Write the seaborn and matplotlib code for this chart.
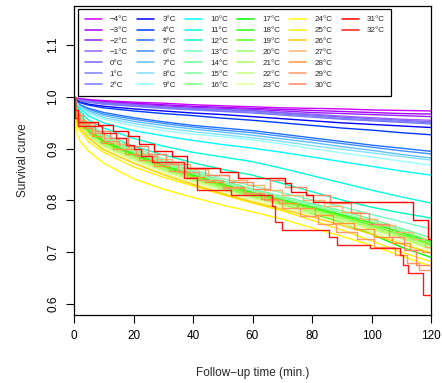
import numpy as np
import pandas as pd
import matplotlib
matplotlib.use("Agg")
import matplotlib.pyplot as plt
from matplotlib.lines import Line2D
import seaborn as sns

# ---------------- data ----------------
temps = list(range(-4, 33))
temp_labels = [("\u2212%d\u00b0C" % -t) if t < 0 else ("%d\u00b0C" % t) for t in temps]

colors = ["#CC00FF", "#A600FF", "#9A1EFF", "#9966FF", "#8060FF", "#8080FF", "#7878FF",
          "#0000FF", "#0038FF", "#2070FF", "#4090FF", "#60C0FF", "#80E0FF", "#99FFFF",
          "#00FFFF", "#00FFDD", "#00FFC0", "#70FFC0", "#66FF99", "#80FF99", "#80FF80",
          "#00FF00", "#22FF00", "#55FF00", "#99FF66", "#AAFF55", "#CCFF80", "#E6FF99",
          "#FFFF00", "#FFEE00", "#FFCC00", "#FFB366", "#FF9933", "#FF9966", "#FF8866",
          "#FF0000", "#FF1A1A"]

# time grid for the smooth (many-event) curves
t_grid = [0, 1, 2, 5, 10, 20, 30, 40, 50, 60, 70, 80, 90, 100, 110, 120]

# -4..4 degC
surv_cold = [
    [1, .998, .997, .995, .993, .990, .988, .985, .983, .981, .979, .978, .977, .975, .974, .973],
    [1, .997, .996, .994, .991, .988, .985, .982, .980, .978, .976, .974, .972, .970, .968, .967],
    [1, .997, .995, .993, .990, .986, .983, .980, .978, .976, .973, .970, .968, .966, .964, .962],
    [1, .996, .995, .992, .989, .985, .981, .978, .976, .974, .970, .967, .963, .960, .957, .955],
    [1, .996, .994, .991, .988, .984, .980, .977, .975, .973, .969, .965, .961, .958, .955, .952],
    [1, .995, .993, .990, .987, .983, .979, .976, .973, .971, .967, .963, .959, .956, .953, .950],
    [1, .995, .993, .990, .986, .982, .978, .975, .972, .969, .965, .961, .957, .954, .951, .948],
    [1, .993, .990, .986, .982, .977, .973, .969, .966, .962, .958, .954, .950, .947, .944, .941],
    [1, .992, .989, .984, .979, .973, .968, .964, .959, .955, .950, .945, .940, .936, .931, .927],
]
# 5..12 degC
surv_mid = [
    [1, .990, .985, .978, .970, .960, .952, .945, .940, .935, .928, .921, .914, .907, .901, .895],
    [1, .989, .984, .976, .967, .957, .949, .942, .936, .931, .924, .917, .910, .903, .896, .890],
    [1, .988, .982, .973, .964, .953, .945, .938, .932, .926, .919, .912, .904, .897, .889, .882],
    [1, .987, .980, .970, .960, .949, .940, .933, .927, .921, .914, .906, .899, .892, .885, .878],
    [1, .986, .979, .968, .957, .944, .935, .928, .923, .917, .909, .900, .892, .884, .876, .868],
    [1, .985, .977, .963, .950, .935, .925, .916, .908, .901, .893, .884, .875, .866, .857, .849],
    [1, .982, .972, .955, .940, .920, .905, .893, .884, .875, .862, .848, .834, .820, .807, .795],
    [1, .978, .966, .947, .928, .905, .888, .873, .860, .849, .833, .817, .801, .787, .776, .766],
]
# 13..26 degC
surv_warm = [
    [1, .974, .963, .948, .928, .903, .880, .860, .842, .828, .815, .801, .788, .773, .759, .745],
    [1, .972, .960, .944, .924, .899, .876, .856, .838, .822, .808, .794, .780, .764, .746, .728],
    [1, .970, .958, .941, .921, .896, .873, .853, .835, .819, .805, .791, .776, .760, .742, .722],
    [1, .968, .955, .938, .918, .893, .870, .850, .832, .816, .802, .788, .773, .757, .738, .716],
    [1, .966, .952, .934, .913, .888, .865, .845, .826, .808, .793, .775, .757, .735, .710, .690],
    [1, .965, .952, .935, .915, .890, .868, .849, .831, .815, .801, .787, .772, .756, .738, .720],
    [1, .963, .950, .932, .912, .887, .865, .846, .828, .812, .798, .784, .769, .752, .734, .715],
    [1, .962, .948, .930, .910, .885, .863, .844, .826, .810, .796, .782, .767, .750, .732, .712],
    [1, .960, .946, .928, .907, .882, .860, .841, .823, .807, .793, .779, .764, .747, .729, .708],
    [1, .958, .944, .925, .904, .879, .857, .838, .820, .804, .790, .776, .761, .744, .726, .705],
    [1, .956, .941, .922, .900, .875, .853, .834, .816, .800, .786, .772, .756, .739, .720, .700],
    [1, .930, .915, .895, .872, .842, .822, .806, .791, .778, .764, .747, .731, .713, .693, .673],
    [1, .950, .935, .913, .893, .865, .845, .828, .811, .795, .780, .762, .743, .722, .700, .682],
    [1, .957, .940, .920, .898, .872, .850, .831, .813, .797, .783, .768, .752, .735, .716, .698],
]

# 27..32 degC: few subjects, step curves
t_27 = [0, 0.5, 2, 4, 7, 10, 14, 18, 23, 28, 33, 39, 45, 52, 58, 64, 70, 77, 84, 90, 96, 102, 108, 114, 118, 120]
s_27 = [1, .97, .955, .945, .93, .92, .91, .90, .89, .88, .87, .86, .85, .84, .83, .82, .81, .80, .79, .778, .765, .752, .74, .725, .71, .71]
t_28 = [0, 0.5, 1.5, 3, 6, 9, 13, 17, 22, 27, 32, 38, 44, 50, 57, 63, 69, 75, 81, 87, 94, 101, 107, 113, 117, 120]
s_28 = [1, .965, .95, .94, .925, .912, .90, .89, .878, .867, .857, .846, .836, .826, .815, .803, .795, .785, .772, .757, .745, .73, .718, .705, .70, .70]
t_29 = [0, 0.5, 2, 5, 10, 15, 21, 28, 35, 42, 50, 57, 64, 70, 76, 82, 88, 95, 101, 108, 112, 116, 120]
s_29 = [1, .96, .945, .93, .915, .90, .885, .87, .855, .84, .825, .815, .80, .785, .77, .755, .74, .725, .71, .695, .68, .665, .665]
t_30 = [0, 0.5, 3, 7, 12, 18, 25, 31, 37, 44, 52, 60, 66, 71, 78, 86, 93, 99, 106, 111, 115, 120]
s_30 = [1, .965, .95, .935, .92, .905, .89, .875, .862, .85, .835, .822, .84, .826, .81, .795, .775, .755, .73, .705, .675, .675]
t_31 = [0, 0.5, 1.3, 8, 13, 18, 22, 27, 33, 38, 49, 55, 71, 73, 78, 80.5, 114, 119, 120]
s_31 = [1, .975, .952, .945, .935, .925, .91, .895, .885, .862, .855, .843, .833, .817, .811, .798, .762, .725, .725]
t_32 = [0, 0.5, 1.5, 9.5, 14, 17.4, 20, 22.4, 26.3, 37, 41.5, 52.7, 66.5, 67.7, 70, 85.6, 88.4, 99.4, 109.5, 110.6, 112.3, 117.3, 120]
s_32 = [1, .96, .943, .93, .92, .907, .90, .885, .875, .843, .82, .81, .79, .758, .742, .73, .714, .708, .695, .675, .66, .617, .614]

# ---------------- build tables ----------------
smooth_rows = []
for k, curve in enumerate(surv_cold + surv_mid + surv_warm):
    lab = temp_labels[k]
    for t, v in zip(t_grid, curve):
        smooth_rows.append((lab, t, v))
df_smooth = pd.DataFrame(smooth_rows, columns=["temp", "time", "surv"])

step_sets = [(t_27, s_27), (t_28, s_28), (t_29, s_29), (t_30, s_30), (t_31, s_31), (t_32, s_32)]
step_rows = []
for j, (tt, ss) in enumerate(step_sets):
    lab = temp_labels[31 + j]
    for t, v in zip(tt, ss):
        step_rows.append((lab, t, v))
df_step = pd.DataFrame(step_rows, columns=["temp", "time", "surv"])

palette = dict(zip(temp_labels, colors))

# ---------------- figure ----------------
sns.set_style("white")
plt.rcParams["font.family"] = ["Liberation Sans", "DejaVu Sans"]

fig = plt.figure(figsize=(4.42, 3.83), dpi=100)
ax = fig.add_axes([74 / 442, (383 - 315) / 383, (431 - 74) / 442, (315 - 6) / 383])

smooth_order = temp_labels[:31]
step_order = temp_labels[31:]
sns.lineplot(data=df_smooth, x="time", y="surv", hue="temp", hue_order=smooth_order,
             palette=palette, estimator=None, sort=False, legend=False, lw=1.0, ax=ax)
sns.lineplot(data=df_step, x="time", y="surv", hue="temp", hue_order=step_order,
             palette=palette, estimator=None, sort=False, legend=False, lw=1.0,
             drawstyle="steps-post", ax=ax)

ax.set_xlim(0, 120)
ax.set_ylim(0.5787, 1.1758)
ax.set_xticks([0, 20, 40, 60, 80, 100, 120])
ax.set_yticks([0.6, 0.7, 0.8, 0.9, 1.0, 1.1])
ax.set_yticklabels(["0.6", "0.7", "0.8", "0.9", "1.0", "1.1"], rotation=90, va="center")
ax.tick_params(axis="both", direction="out", length=5.5, width=0.8, labelsize=8.5,
               colors="black", left=True, bottom=True, pad=5)
for sp in ax.spines.values():
    sp.set_color("black")
    sp.set_linewidth(0.9)
ax.set_xlabel("Follow\u2212up time (min.)", fontsize=8.5, labelpad=18)
ax.set_ylabel("Survival curve", fontsize=8.5, labelpad=13)

# legend: 7 rows x 6 columns, filled column-wise (pad last column with blanks)
handles = [Line2D([0], [0], color=c, lw=1.1) for c in colors]
labels = list(temp_labels)
for _ in range(42 - len(handles)):
    handles.append(Line2D([0], [0], color="none", lw=0))
    labels.append("")
leg = ax.legend(handles, labels, ncol=6, loc="upper left",
                bbox_to_anchor=(78 / 442, 1 - 9 / 383), bbox_transform=fig.transFigure,
                borderaxespad=0, fontsize=5.8, frameon=True, fancybox=False,
                edgecolor="black", framealpha=1, handlelength=2.1, handletextpad=1.0,
                columnspacing=1.15, labelspacing=0.4, borderpad=0.85)
leg.get_frame().set_linewidth(0.9)

fig.savefig("out.png", dpi=100)
